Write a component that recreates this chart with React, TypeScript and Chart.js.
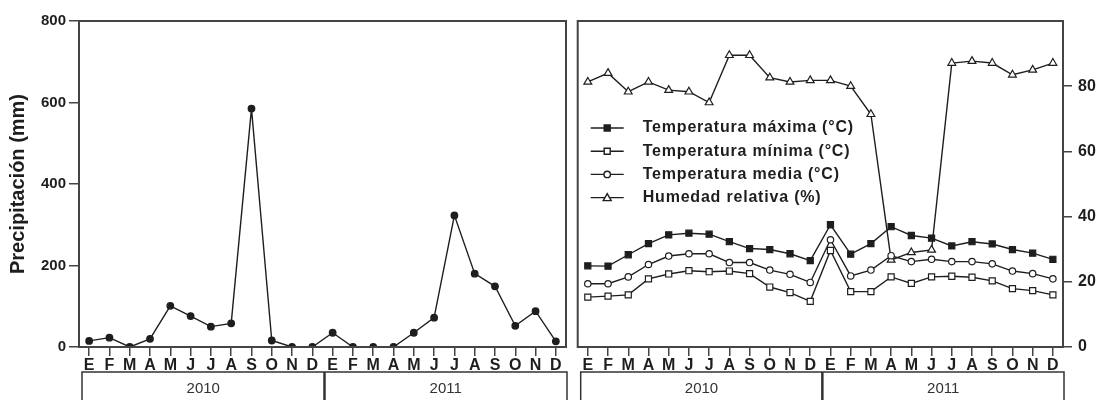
import React, { useEffect, useRef } from 'react';
import { Chart, registerables } from 'chart.js';

Chart.register(...registerables);

const months = ['E', 'F', 'M', 'A', 'M', 'J', 'J', 'A', 'S', 'O', 'N', 'D'];
const monthLabels = [...months, ...months];
const years = ['2010', '2011'];

const precipitation = [15, 23, 0, 20, 101, 76, 50, 58, 585, 16, 0, 0, 35, 0, 0, 0, 35, 72, 323, 180, 149, 52, 88, 14];

const tempMax = [24.9, 24.8, 28.3, 31.7, 34.4, 34.9, 34.6, 32.3, 30.2, 29.9, 28.6, 26.5, 37.5, 28.5, 31.7, 36.9, 34.2, 33.4, 31, 32.3, 31.6, 29.9, 28.8, 26.9];
const tempMin = [15.3, 15.6, 16, 20.9, 22.4, 23.4, 23.1, 23.3, 22.5, 18.4, 16.7, 14, 29.6, 17, 17, 21.5, 19.5, 21.5, 21.7, 21.4, 20.3, 17.9, 17.3, 16];
const tempMed = [19.4, 19.4, 21.5, 25.3, 27.9, 28.6, 28.6, 25.9, 25.9, 23.6, 22.3, 19.8, 32.9, 21.8, 23.6, 28, 26.2, 26.9, 26.2, 26.2, 25.5, 23.3, 22.5, 20.9];
const humidity = [81.3, 84, 78.3, 81.3, 78.8, 78.3, 75, 89.5, 89.5, 82.6, 81.3, 81.8, 81.8, 80, 71.4, 26.7, 29, 29.8, 87.1, 87.7, 87.1, 83.5, 85, 87.1];

const precipTicks = [0, 200, 400, 600, 800];
const climateTicks = [0, 20, 40, 60, 80];

const FONT = "'Liberation Sans', Arial, Helvetica, sans-serif";
const INK = '#1e1e1e';
const AXIS = '#444';

const boxPlugin = {
  id: 'frameBox',
  afterDatasetsDraw(chart: any) {
    const { ctx, chartArea: a } = chart;
    ctx.save();
    ctx.strokeStyle = AXIS;
    ctx.lineWidth = 2;
    ctx.strokeRect(a.left, a.top, a.right - a.left, a.bottom - a.top);
    ctx.restore();
  },
};

const yearPlugin = {
  id: 'yearBoxes',
  afterDraw(chart: any) {
    const { ctx, chartArea: a } = chart;
    const top = 372;
    const left = a.left + 3;
    const right = a.right + 1;
    const mid = (a.left + a.right) / 2 + 2;
    ctx.save();
    ctx.strokeStyle = '#333';
    ctx.lineWidth = 1.5;
    ctx.strokeRect(left, top, right - left, 60);
    ctx.lineWidth = 2.5;
    ctx.beginPath();
    ctx.moveTo(mid, top);
    ctx.lineTo(mid, 400);
    ctx.stroke();
    ctx.fillStyle = '#333';
    ctx.font = `15px ${FONT}`;
    ctx.textAlign = 'center';
    ctx.textBaseline = 'middle';
    ctx.fillText(years[0], (left + mid) / 2, 389);
    ctx.fillText(years[1], (mid + right) / 2, 389);
    ctx.restore();
  },
};

function drawMarker(ctx: CanvasRenderingContext2D, style: string, x: number, y: number, filled: boolean) {
  ctx.beginPath();
  if (style === 'rect') {
    ctx.rect(x - 3, y - 3, 6, 6);
  } else if (style === 'circle') {
    ctx.arc(x, y, 3.2, 0, Math.PI * 2);
  } else {
    ctx.moveTo(x, y - 4);
    ctx.lineTo(x + 4, y + 3);
    ctx.lineTo(x - 4, y + 3);
    ctx.closePath();
  }
  ctx.fillStyle = filled ? INK : '#fff';
  ctx.fill();
  ctx.stroke();
}

const legendPlugin = {
  id: 'innerLegend',
  afterDraw(chart: any) {
    const { ctx, chartArea: a } = chart;
    ctx.save();
    chart.data.datasets.forEach((ds: any, i: number) => {
      const y = a.top + 107 + i * 23.2;
      const x0 = a.left + 13;
      const x1 = a.left + 46;
      ctx.strokeStyle = INK;
      ctx.lineWidth = 1.4;
      ctx.beginPath();
      ctx.moveTo(x0, y);
      ctx.lineTo(x1, y);
      ctx.stroke();
      drawMarker(ctx, ds.pointStyle, (x0 + x1) / 2, y, ds.pointBackgroundColor === INK);
      ctx.fillStyle = INK;
      ctx.font = `bold 16px ${FONT}`;
      (ctx as any).letterSpacing = '0.8px';
      ctx.textAlign = 'left';
      ctx.textBaseline = 'middle';
      ctx.fillText(ds.label, a.left + 65, y);
      (ctx as any).letterSpacing = '0px';
    });
    ctx.restore();
  },
};

function xScale() {
  return {
    type: 'category' as const,
    offset: true,
    grid: { display: true, drawOnChartArea: false, drawTicks: true, tickLength: 9, color: AXIS, lineWidth: 1.5 },
    border: { display: false },
    ticks: { color: INK, font: { family: FONT, size: 16, weight: 'bold' as const }, padding: 0, maxRotation: 0, autoSkip: false },
    afterFit: (s: any) => { s.height = 53; },
  };
}

export default function App() {
  const leftRef = useRef<HTMLCanvasElement>(null);
  const rightRef = useRef<HTMLCanvasElement>(null);

  useEffect(() => {
    const left = new Chart(leftRef.current!, {
      type: 'line',
      data: {
        labels: monthLabels,
        datasets: [
          {
            label: 'Precipitación (mm)',
            data: precipitation,
            borderColor: INK,
            borderWidth: 1.4,
            pointStyle: 'circle',
            pointRadius: 3.2,
            pointBackgroundColor: INK,
            pointBorderColor: INK,
            tension: 0,
          },
        ],
      },
      options: {
        responsive: false,
        animation: false,
        devicePixelRatio: 1,
        layout: { padding: { top: 21, left: 0, right: 6, bottom: 0 } },
        plugins: { legend: { display: false }, tooltip: { enabled: false } },
        scales: {
          x: xScale(),
          y: {
            min: 0,
            max: 800,
            afterBuildTicks: (s: any) => { s.ticks = precipTicks.map((v) => ({ value: v })); },
            grid: { display: true, drawOnChartArea: false, drawTicks: true, tickLength: 10, color: AXIS, lineWidth: 1.5 },
            border: { display: false },
            ticks: { color: INK, font: { family: FONT, size: 15, weight: 'bold' }, padding: 3 },
            title: {
              display: true,
              text: 'Precipitación (mm)',
              color: INK,
              font: { family: FONT, size: 20, weight: 'bold' },
              padding: { top: 6, bottom: 0 },
            },
            afterFit: (s: any) => { s.width = 79; },
          },
        },
      },
      plugins: [boxPlugin, yearPlugin],
    });

    const mk = (label: string, data: number[], style: string, filled: boolean) => ({
      label,
      data,
      borderColor: INK,
      borderWidth: 1.4,
      pointStyle: style,
      pointRadius: style === 'rect' ? 4.3 : style === 'circle' ? 3.2 : 4.5,
      pointBackgroundColor: filled ? INK : '#fff',
      pointBorderColor: INK,
      pointBorderWidth: 1.2,
      tension: 0,
    });

    const right = new Chart(rightRef.current!, {
      type: 'line',
      data: {
        labels: monthLabels,
        datasets: [
          mk('Temperatura máxima (°C)', tempMax, 'rect', true),
          mk('Temperatura mínima (°C)', tempMin, 'rect', false),
          mk('Temperatura media (°C)', tempMed, 'circle', false),
          mk('Humedad relativa (%)', humidity, 'triangle', false),
        ],
      },
      options: {
        responsive: false,
        animation: false,
        devicePixelRatio: 1,
        layout: { padding: { top: 21, left: 5, right: 0, bottom: 0 } },
        plugins: { legend: { display: false }, tooltip: { enabled: false } },
        scales: {
          x: xScale(),
          y: {
            position: 'right',
            min: 0,
            max: 100,
            afterBuildTicks: (s: any) => { s.ticks = climateTicks.map((v) => ({ value: v })); },
            grid: { display: true, drawOnChartArea: false, drawTicks: true, tickLength: 9, color: AXIS, lineWidth: 1.5 },
            border: { display: false },
            ticks: { color: INK, font: { family: FONT, size: 16, weight: 'bold' }, padding: 6 },
            afterFit: (s: any) => { s.width = 45; },
          },
        },
      },
      plugins: [boxPlugin, yearPlugin, legendPlugin],
    });

    return () => {
      left.destroy();
      right.destroy();
    };
  }, []);

  return (
    <div style={{ position: 'absolute', left: 0, top: 0, width: 1108, height: 400, background: '#fff', overflow: 'hidden' }}>
      <canvas ref={leftRef} width={572} height={400} style={{ position: 'absolute', left: 0, top: 0 }} />
      <canvas ref={rightRef} width={536} height={400} style={{ position: 'absolute', left: 572, top: 0 }} />
    </div>
  );
}
